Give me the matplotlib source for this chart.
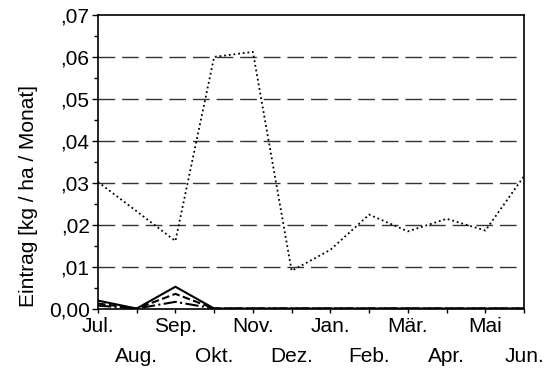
import matplotlib
matplotlib.use("Agg")
import matplotlib.pyplot as plt
from matplotlib.ticker import MultipleLocator, FixedLocator

plt.rcParams['font.family'] = ['Liberation Sans', 'DejaVu Sans']

months = ['Jul.', 'Aug.', 'Sep.', 'Okt.', 'Nov.', 'Dez.',
          'Jan.', 'Feb.', 'Mär.', 'Apr.', 'Mai', 'Jun.']

# monthly input, kg / ha
dotted = [0.0302, 0.0232, 0.0161, 0.0600, 0.0612, 0.0090,
          0.0140, 0.0224, 0.0184, 0.0214, 0.0186, 0.0316]
solid = [0.0019, 0.0, 0.0052, 0.0, 0.0, 0.0, 0.0, 0.0, 0.0, 0.0, 0.0, 0.0]
dashed = [0.0012, 0.0, 0.0035, 0.0, 0.0, 0.0, 0.0, 0.0, 0.0, 0.0, 0.0, 0.0]
dashdot = [0.0007, 0.0, 0.0016, 0.0, 0.0, 0.0, 0.0, 0.0, 0.0, 0.0, 0.0, 0.0]

y_ticks = [0.0, 0.01, 0.02, 0.03, 0.04, 0.05, 0.06, 0.07]
y_labels = ['0,00', ',01', ',02', ',03', ',04', ',05', ',06', ',07']

fig = plt.figure(figsize=(5.5, 3.74), dpi=100)
ax = fig.add_axes([0.178, 0.175, 0.775, 0.785])

x = list(range(len(months)))

for yv in y_ticks[1:-1]:
    ax.axhline(yv, color='#333333', lw=1.0, dashes=(12, 5), zorder=1)

ax.plot(x, dotted, color='black', lw=1.3, linestyle=(0, (1, 1.6)), zorder=3)
ax.plot(x, dashdot, color='black', lw=1.5, linestyle='-.', zorder=3)
ax.plot(x, dashed, color='black', lw=1.5, linestyle='--', zorder=3)
ax.plot(x, solid, color='black', lw=1.5, zorder=3)

ax.set_xlim(0, len(months) - 1)
ax.set_ylim(0, 0.07)

ax.yaxis.set_major_locator(FixedLocator(y_ticks))
ax.set_yticklabels(y_labels, fontsize=15)
ax.yaxis.set_minor_locator(MultipleLocator(0.005))
ax.tick_params(axis='y', which='major', length=4, width=1, pad=2)
ax.tick_params(axis='y', which='minor', length=3, width=1)

ax.set_xticks(x)
labels = [m if i % 2 == 0 else '\n' + m for i, m in enumerate(months)]
ax.set_xticklabels(labels, fontsize=15, linespacing=1.75)
ax.tick_params(axis='x', length=3, width=1, pad=3)

for s in ax.spines.values():
    s.set_linewidth(1.2)

ax.set_ylabel('Eintrag [kg / ha / Monat]', fontsize=15)
ax.yaxis.set_label_coords(-0.14, 0.385)

fig.savefig('out.png', dpi=100)
